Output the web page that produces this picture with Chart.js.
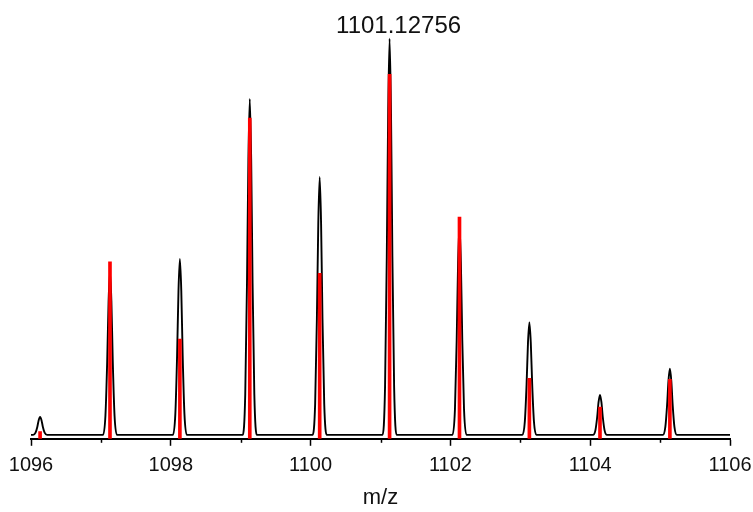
<!DOCTYPE html>
<html>
<head>
<meta charset="utf-8">
<script src="https://cdn.jsdelivr.net/npm/chart.js@4/dist/chart.umd.min.js"></script>
<style>
  html, body { margin: 0; padding: 0; background: #fff; }
  #wrap { width: 753px; height: 512px; }
</style>
</head>
<body>
<div id="wrap"><canvas id="msChart" width="753" height="512"></canvas></div>
<script>
// isotope peak positions (m/z) and calculated (red) intensities
const peakCenters = [1096.13, 1097.13, 1098.13, 1099.13, 1100.13, 1101.13, 1102.13, 1103.13, 1104.14, 1105.14];
const calcHeights = [0.8, 43.7, 24.2, 80.0, 40.8, 91.0, 55.0, 14.3, 7.0, 14.0];

// measured profile (black), one row per peak: [m/z, intensity]
const profile = [
  [1096.00, 0],
  [1096.03, 0], [1096.065, 0.54], [1096.09, 2.0], [1096.11, 3.7], [1096.13, 4.5], [1096.15, 3.7], [1096.17, 2.0], [1096.195, 0.54], [1096.23, 0],
  [1097.03, 0], [1097.065, 4.9], [1097.09, 18.5], [1097.11, 33.8], [1097.13, 41.2], [1097.15, 33.8], [1097.17, 18.5], [1097.195, 4.9], [1097.23, 0],
  [1098.03, 0], [1098.065, 5.3], [1098.09, 20.0], [1098.11, 36.4], [1098.13, 44.4], [1098.15, 36.4], [1098.17, 20.0], [1098.195, 5.3], [1098.23, 0],
  [1099.03, 0], [1099.065, 10.2], [1099.09, 38.2], [1099.11, 69.5], [1099.13, 84.8], [1099.15, 69.5], [1099.17, 38.2], [1099.195, 10.2], [1099.23, 0],
  [1100.03, 0], [1100.065, 7.8], [1100.09, 29.3], [1100.11, 53.4], [1100.13, 65.1], [1100.15, 53.4], [1100.17, 29.3], [1100.195, 7.8], [1100.23, 0],
  [1101.03, 0], [1101.065, 12.0], [1101.09, 45.0], [1101.11, 82.0], [1101.13, 100], [1101.15, 82.0], [1101.17, 45.0], [1101.195, 12.0], [1101.23, 0],
  [1102.03, 0], [1102.065, 6.4], [1102.09, 23.9], [1102.11, 43.5], [1102.13, 53.0], [1102.15, 43.5], [1102.17, 23.9], [1102.195, 6.4], [1102.23, 0],
  [1103.03, 0], [1103.065, 3.4], [1103.09, 12.8], [1103.11, 23.3], [1103.13, 28.4], [1103.15, 23.3], [1103.17, 12.8], [1103.195, 3.4], [1103.23, 0],
  [1104.04, 0], [1104.075, 1.2], [1104.10, 4.5], [1104.12, 8.3], [1104.14, 10.1], [1104.16, 8.3], [1104.18, 4.5], [1104.205, 1.2], [1104.24, 0],
  [1105.04, 0], [1105.075, 2.0], [1105.10, 7.5], [1105.12, 13.7], [1105.14, 16.7], [1105.16, 13.7], [1105.18, 7.5], [1105.205, 2.0], [1105.24, 0],
  [1106.00, 0]
];

const xTicks = [1096, 1098, 1100, 1102, 1104, 1106];
const labelMass = '1101.12756';
const labelAt = 1101.13;

const FONT = "'Liberation Sans', Arial, sans-serif";

// short ticks at odd m/z values
const minorTicks = {
  id: 'minorTicks',
  afterDraw(chart) {
    const xs = chart.scales.x;
    const c = chart.ctx;
    c.save();
    c.strokeStyle = '#000';
    c.lineWidth = 1.5;
    for (let v = xs.min + 1; v < xs.max; v += 2) {
      const px = Math.round(xs.getPixelForValue(v)) + 0.5;
      c.beginPath();
      c.moveTo(px, chart.chartArea.bottom);
      c.lineTo(px, chart.chartArea.bottom + 4);
      c.stroke();
    }
    c.restore();
  }
};

// mass label above the base peak
const peakLabel = {
  id: 'peakLabel',
  afterDatasetsDraw(chart) {
    const c = chart.ctx;
    const px = chart.scales.x.getPixelForValue(labelAt) + 9;
    const py = chart.scales.y.getPixelForValue(100) - 12;
    c.save();
    c.fillStyle = '#111';
    c.font = '24px ' + FONT;
    c.textAlign = 'center';
    c.textBaseline = 'middle';
    c.fillText(labelMass, px, py);
    c.restore();
  }
};

const ctx = document.getElementById('msChart').getContext('2d');

new Chart(ctx, {
  type: 'bar',
  data: {
    datasets: [
      {
        type: 'bar',
        label: 'calculated',
        data: peakCenters.map((m, i) => ({ x: m, y: [-1, calcHeights[i]] })),
        backgroundColor: '#ff0000',
        borderWidth: 0,
        barThickness: 3,
        grouped: false,
        order: 0
      },
      {
        type: 'line',
        label: 'measured',
        data: profile.map(p => ({ x: p[0], y: p[1] })),
        borderColor: '#000',
        borderWidth: 1.9,
        pointRadius: 0,
        cubicInterpolationMode: 'monotone',
        fill: false,
        order: 1
      }
    ]
  },
  options: {
    responsive: false,
    animation: false,
    layout: { padding: { left: 31, right: 23, top: 19, bottom: 0 } },
    plugins: {
      legend: { display: false },
      tooltip: { enabled: false }
    },
    scales: {
      x: {
        type: 'linear',
        min: 1096,
        max: 1106,
        offset: false,
        afterBuildTicks: s => { s.ticks = xTicks.map(v => ({ value: v })); },
        afterFit: s => { s.paddingLeft = 0; s.paddingRight = 0; },
        ticks: {
          color: '#111',
          padding: 8,
          maxRotation: 0,
          autoSkip: false,
          font: { family: FONT, size: 20 },
          callback: v => String(v)
        },
        grid: {
          offset: false,
          drawOnChartArea: false,
          drawTicks: true,
          tickLength: 7,
          tickWidth: 1.5,
          tickColor: '#000'
        },
        border: { display: true, color: '#000', width: 2 },
        title: {
          display: true,
          text: 'm/z',
          color: '#111',
          font: { family: FONT, size: 22, lineHeight: 1.1 },
          padding: { top: 0, bottom: 2 }
        }
      },
      y: {
        display: false,
        min: -1,
        max: 105
      }
    }
  },
  plugins: [minorTicks, peakLabel]
});
</script>
</body>
</html>
